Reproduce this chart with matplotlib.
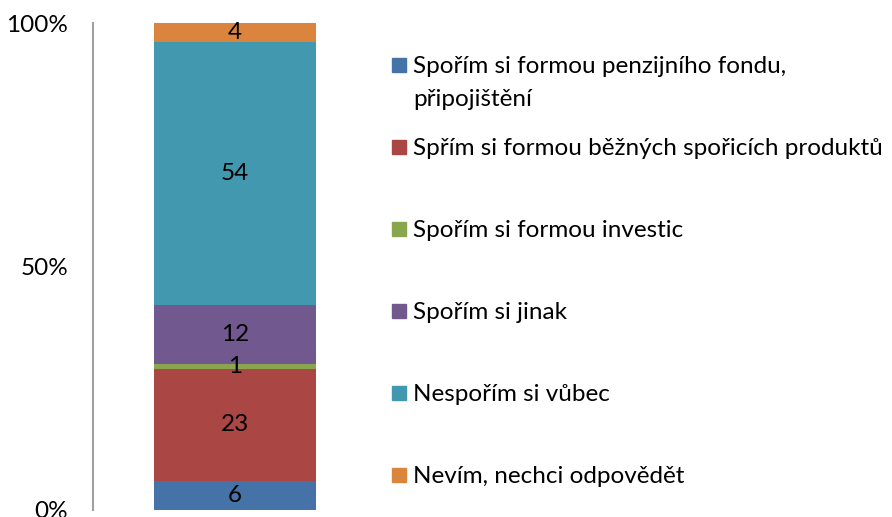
import matplotlib.pyplot as plt
from matplotlib.patches import Rectangle

plt.rcParams['font.family'] = ['Lato', 'DejaVu Sans']

labels = [
    'Spořím si formou penzijního fondu,\npřipojištění',
    'Spřím si formou běžných spořicích produktů',
    'Spořím si formou investic',
    'Spořím si jinak',
    'Nespořím si vůbec',
    'Nevím, nechci odpovědět',
]
values = [6, 23, 1, 12, 54, 4]
colors = ['#4572A7', '#AA4643', '#89A54E', '#71588F', '#4198AF', '#DB843D']

FS = 17.5
W, H = 892, 517

fig = plt.figure(figsize=(W / 100, H / 100), dpi=100)
ax = fig.add_axes([93 / W, 7 / H, 284 / W, 487 / H])

bottom = 0
for v, c in zip(values, colors):
    ax.bar(0.5, v, width=0.57, bottom=bottom, color=c)
    ax.text(0.5, bottom + v / 2, str(v), ha='center', va='center', fontsize=FS)
    bottom += v

ax.set_xlim(0, 1)
ax.set_ylim(0, 100)
ax.set_yticks([0, 50, 100])
ax.set_yticklabels(['0%', '50%', '100%'], fontsize=FS)
ax.tick_params(axis='y', length=0, pad=18)
ax.set_xticks([])
for s in ['top', 'right', 'bottom']:
    ax.spines[s].set_visible(False)
ax.spines['left'].set_color('#a0a0a0')
ax.spines['left'].set_linewidth(1.5)

# legend by hand: marker sits beside the first line of each entry
row_base = [73, 155, 237, 319, 401, 483]
for lab, c, yb in zip(labels, colors, row_base):
    fig.patches.append(Rectangle((392 / W, 1 - (yb - 1) / H), 14 / W, 14 / H,
                                 transform=fig.transFigure, color=c))
    for i, line in enumerate(lab.split('\n')):
        fig.text(413 / W, 1 - (yb + 33 * i) / H, line, fontsize=FS, va='baseline')

fig.savefig('out.png', dpi=100)
